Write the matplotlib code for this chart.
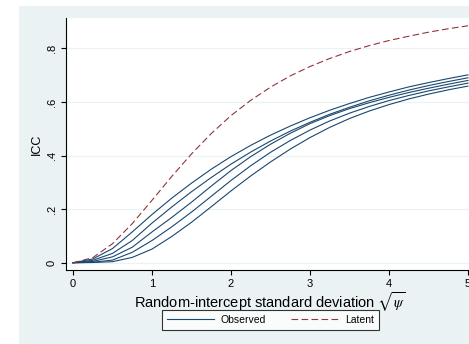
import matplotlib
matplotlib.use("Agg")
import matplotlib.pyplot as plt
from matplotlib.patches import Rectangle

# values
sd = [0, 0.25, 0.5, 0.75, 1, 1.25, 1.5, 1.75, 2, 2.25, 2.5,
      2.75, 3, 3.25, 3.5, 3.75, 4, 4.25, 4.5, 4.75, 5]

latent = [0, .019, .071, .146, .233, .322, .406, .482, .549, .606, .655,
          .697, .732, .762, .788, .810, .829, .845, .860, .873, .884]

observed = [
    [0, .014, .053, .115, .180, .241, .297, .349, .396, .438, .476,
     .510, .541, .569, .594, .617, .637, .656, .672, .687, .701],
    [0, .009, .035, .083, .148, .208, .265, .318, .368, .413, .454,
     .491, .524, .554, .580, .604, .625, .644, .661, .676, .690],
    [0, .005, .022, .058, .115, .169, .226, .286, .344, .396, .442,
     .483, .519, .549, .575, .597, .617, .635, .651, .666, .680],
    [0, .002, .010, .039, .083, .134, .189, .248, .307, .362, .412,
     .456, .495, .529, .558, .583, .605, .624, .641, .656, .670],
    [0, .001, .004, .020, .051, .098, .151, .209, .268, .324, .376,
     .424, .467, .505, .538, .566, .590, .611, .629, .645, .659],
]

yticks = [0, 0.2, 0.4, 0.6, 0.8]
yticklabels = ["0", ".2", ".4", ".6", ".8"]
xticks = [0, 1, 2, 3, 4, 5]

blue = "#1a476f"
red = "#90353b"
bg = "#eaf2f3"

plt.rcParams["font.family"] = ["Liberation Sans", "DejaVu Sans"]
plt.rcParams["mathtext.fontset"] = "stix"

fig = plt.figure(figsize=(4.69, 3.44), dpi=100)
fig.patches.append(Rectangle((19 / 469, 0), 1, 1 - 6 / 344, transform=fig.transFigure,
                             facecolor=bg, edgecolor="none", zorder=-10))

ax = fig.add_axes([66 / 469, 1 - 270 / 344, 408 / 469, 252 / 344])
ax.set_facecolor("white")

obs_lines = []
for ys in observed:
    l, = ax.plot(sd, ys, color=blue, lw=0.8)
    obs_lines.append(l)
lat_line, = ax.plot(sd, latent, color=red, lw=0.8, linestyle=(0, (6, 3)))

ax.set_xlim(-0.0886, 5.076)
ax.set_ylim(-0.027, 0.913)

ax.set_yticks(yticks)
ax.set_yticklabels(yticklabels, rotation=90, va="center")
ax.set_xticks(xticks)
ax.grid(axis="y", color=bg, lw=0.9)
ax.set_axisbelow(True)

for s in ["top", "right"]:
    ax.spines[s].set_visible(False)
for s in ["left", "bottom"]:
    ax.spines[s].set_linewidth(0.8)
ax.tick_params(length=3.6, width=0.8, labelsize=8, pad=3)

ax.set_ylabel("ICC", fontsize=9, labelpad=3)
ax.set_xlabel(r"Random-intercept standard deviation $\sqrt{\psi}$", fontsize=10.5, labelpad=1)

leg = fig.legend([obs_lines[0], lat_line], ["Observed", "Latent"], ncol=2,
                 loc="center", bbox_to_anchor=(270.5 / 469, 1 - 320 / 344),
                 fontsize=7.5, frameon=True, fancybox=False, handlelength=4.5,
                 handletextpad=0.7, columnspacing=2.4, borderpad=0.45)
leg.get_frame().set_edgecolor("black")
leg.get_frame().set_linewidth(0.8)

fig.savefig("out.png", dpi=100)
